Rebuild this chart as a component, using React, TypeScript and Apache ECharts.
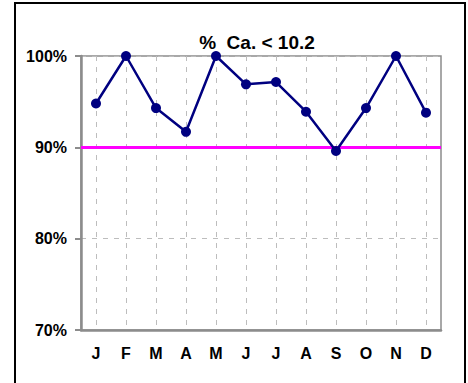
import React, { useEffect, useRef } from "react";
import * as echarts from "echarts";

const months = ["J", "F", "M", "A", "M", "J", "J", "A", "S", "O", "N", "D"];
const pctValues = [94.8, 100, 94.3, 91.7, 100, 96.9, 97.15, 93.9, 89.6, 94.3, 100, 93.8];
const targetValue = 90;
const titleText = "%  Ca. < 10.2";

export default function App() {
  const ref = useRef<HTMLDivElement>(null);
  useEffect(() => {
    if (!ref.current) return;
    const chart = echarts.init(ref.current, null, { renderer: "svg" });
    const font = "'Liberation Sans', Arial, sans-serif";
    chart.setOption({
      animation: false,
      backgroundColor: "#fff",
      textStyle: { fontFamily: font },
      graphic: [
        {
          type: "rect",
          shape: { x: 15, y: 3, width: 450, height: 400 },
          style: { fill: "none", stroke: "#000", lineWidth: 2 },
          silent: true,
        },
        {
          type: "text",
          x: 257,
          y: 42.5,
          style: {
            text: titleText,
            font: `bold 19px ${font}`,
            fill: "#000",
            textAlign: "center",
            textVerticalAlign: "middle",
          },
        },
      ],
      grid: {
        left: 81,
        right: 27,
        top: 56,
        bottom: 53,
        show: true,
        borderColor: "#8c8c8c",
        borderWidth: 1.5,
        backgroundColor: "transparent",
      },
      xAxis: {
        type: "category",
        data: months,
        boundaryGap: true,
        axisLine: { lineStyle: { color: "#8c8c8c", width: 2.5 } },
        axisTick: { alignWithLabel: true, length: 6, lineStyle: { color: "#8c8c8c", width: 2 } },
        axisLabel: { color: "#000", fontWeight: "bold", fontSize: 16, margin: 15, fontFamily: font },
        splitLine: {
          show: true,
          alignWithLabel: true,
          lineStyle: { color: "#bdbdbd", type: [5, 6], width: 1 },
        },
      },
      yAxis: {
        type: "value",
        min: 70,
        max: 100,
        interval: 10,
        axisLine: { show: true, lineStyle: { color: "#8c8c8c", width: 2.5 } },
        axisTick: { show: true, length: 6, lineStyle: { color: "#8c8c8c", width: 2 } },
        axisLabel: {
          color: "#000",
          fontWeight: "bold",
          fontSize: 16,
          margin: 14,
          formatter: "{value}%",
          fontFamily: font,
        },
        splitLine: { show: true, lineStyle: { color: "#bdbdbd", type: [5, 6], width: 1 } },
      },
      series: [
        {
          type: "line",
          data: pctValues,
          symbol: "circle",
          symbolSize: 10,
          lineStyle: { color: "#000080", width: 2.5 },
          itemStyle: { color: "#000080" },
          z: 3,
          markLine: {
            silent: true,
            symbol: ["none", "none"],
            label: { show: false },
            lineStyle: { color: "#ff00ff", width: 3, type: "solid" },
            data: [{ yAxis: targetValue }],
            z: 2,
          },
        },
      ],
    });
    return () => chart.dispose();
  }, []);
  return (
    <div
      ref={ref}
      style={{ position: "fixed", left: 0, top: 0, width: 468, height: 383 }}
    />
  );
}
